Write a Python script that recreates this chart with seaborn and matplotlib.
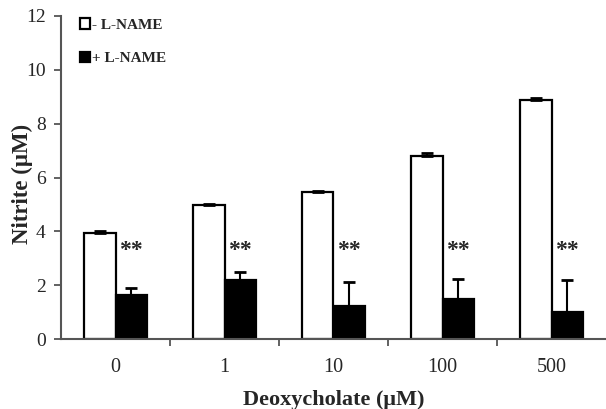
import numpy as np
import pandas as pd
import seaborn as sns
import matplotlib.pyplot as plt
from matplotlib.ticker import FixedLocator

# values
doses = ["0", "1", "10", "100", "500"]
groups = ["- L-NAME", "+ L-NAME"]
minus_mean = [3.93, 4.97, 5.45, 6.80, 8.88]
minus_err = [0.10, 0.03, 0.03, 0.10, 0.07]
plus_mean = [1.63, 2.19, 1.23, 1.50, 1.02]
plus_err = [0.27, 0.30, 0.89, 0.72, 1.16]
star_y = 3.3

sns.set_style("white")
plt.rcParams['font.family'] = ['Liberation Serif', 'DejaVu Serif']

df = pd.DataFrame({
    "Dose": doses * 2,
    "Group": [groups[0]] * 5 + [groups[1]] * 5,
    "Nitrite": minus_mean + plus_mean,
})

fig = plt.figure(figsize=(6.06, 4.09), dpi=100)
ax = fig.add_axes([61 / 606, 70 / 409, 545 / 606, 323 / 409])

sns.barplot(data=df, x="Dose", y="Nitrite", hue="Group", order=doses,
            hue_order=groups, palette=["white", "black"], edgecolor="black",
            linewidth=1.6, width=0.57, errorbar=None, ax=ax)

errs = [minus_err, plus_err]
for cont, err in zip(ax.containers, errs):
    xs = [p.get_x() + p.get_width() / 2 for p in cont]
    hs = [p.get_height() for p in cont]
    ax.errorbar(xs, hs, yerr=[np.zeros(len(err)), err], fmt="none",
                ecolor="black", elinewidth=1.5, capsize=4, capthick=2, zorder=3)

for p in ax.containers[1]:
    ax.text(p.get_x() + p.get_width() / 2, star_y, "**", ha="center", va="center",
            fontsize=17, fontweight="bold")

ax.set_ylim(0, 12)
ax.set_xlim(-0.5, 4.5)
ax.set_yticks([0, 2, 4, 6, 8, 10, 12])
ax.xaxis.set_minor_locator(FixedLocator([0.5, 1.5, 2.5, 3.5]))
ax.tick_params(axis="x", which="major", length=0, pad=14, labelsize=14.5)
ax.tick_params(axis="x", which="minor", length=5, width=1.3, color="#555555",
               direction="out", bottom=True)
ax.tick_params(axis="y", length=5, width=1.3, color="#555555", direction="out",
               left=True, labelsize=14, pad=6)

sns.despine(ax=ax)
for s in ["left", "bottom"]:
    ax.spines[s].set_color("#555555")
    ax.spines[s].set_linewidth(1.5)

ax.set_xlabel("Deoxycholate (μM)", fontsize=16, fontweight="bold", labelpad=9)
ax.set_ylabel("Nitrite (μM)", fontsize=16.5, fontweight="bold")
ax.yaxis.set_label_coords(-0.052, 0.48)

handles, labels = ax.get_legend_handles_labels()
leg = ax.legend(handles, labels, loc="upper left", bbox_to_anchor=(0.01, 1.035),
                frameon=False, handlelength=0.65, handleheight=0.65,
                handletextpad=0.15, labelspacing=1.3, prop={"size": 11, "weight": "bold"})

fig.savefig("out.png", dpi=100)
